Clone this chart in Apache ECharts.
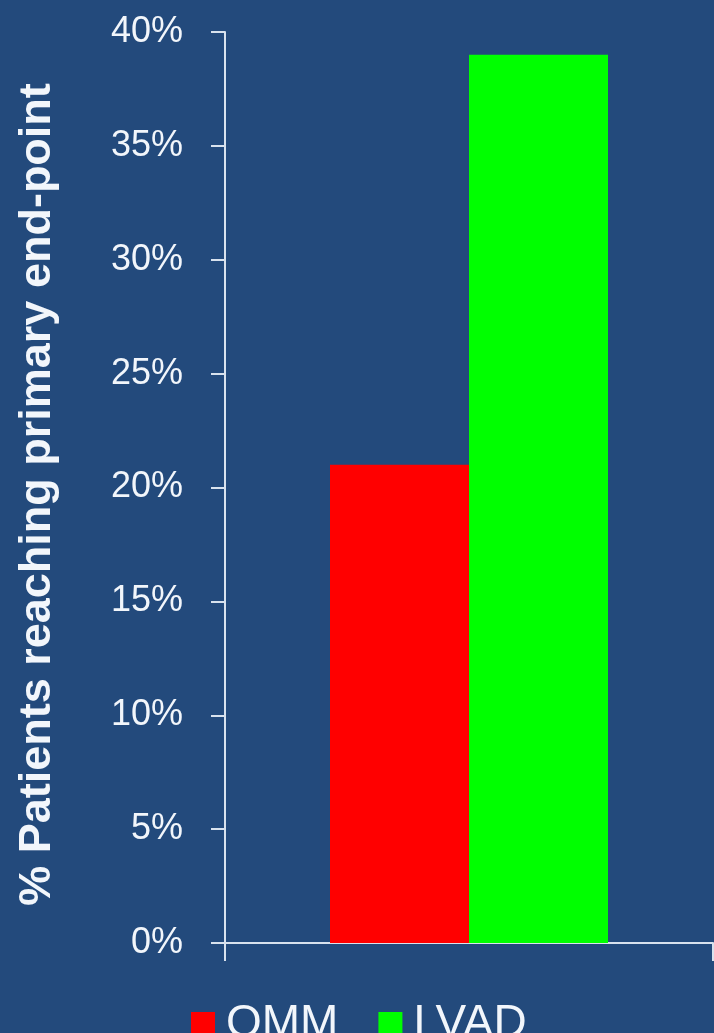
<!DOCTYPE html>
<html>
<head>
<meta charset="utf-8">
<script src="https://cdn.jsdelivr.net/npm/echarts@6/dist/echarts.min.js"></script>
<style>
  html, body { margin: 0; padding: 0; background: #234a7c; }
  #chart { width: 714px; height: 1033px; }
</style>
</head>
<body>
<div id="chart"></div>
<script>
// data
var categories = ['']
var seriesNames = ['OMM', 'LVAD']
var ommValues = [21]
var lvadValues = [39]

var textColor = '#f2f6fb'
var lineColor = '#d8e2ee'

var chart = echarts.init(document.getElementById('chart'))
chart.setOption({
  backgroundColor: '#234a7c',
  animation: false,
  grid: {
    left: 225,
    right: 1,
    top: 32,
    bottom: 90,
  },
  legend: {
    data: seriesNames,
    left: 186,
    top: 996,
    itemWidth: 24,
    itemHeight: 24,
    itemGap: 40,
    icon: 'rect',
    textStyle: {
      color: textColor,
      fontSize: 46,
      fontFamily: 'Liberation Sans',
      padding: [0, 0, 0, 6],
    },
  },
  xAxis: {
    type: 'category',
    data: categories,
    axisLine: { lineStyle: { color: lineColor, width: 2 } },
    axisTick: { show: true, length: 18, lineStyle: { color: lineColor, width: 2 } },
    axisLabel: { show: false },
  },
  yAxis: {
    type: 'value',
    min: 0,
    max: 40,
    interval: 5,
    name: '% Patients reaching primary end-point',
    nameLocation: 'middle',
    nameGap: 165,
    nameTextStyle: {
      color: textColor,
      fontSize: 45,
      fontWeight: 'bold',
      fontFamily: 'Liberation Sans',
      padding: [0, 14, 0, 0],
      align: 'center',
    },
    splitLine: { show: false },
    axisLine: { show: true, lineStyle: { color: lineColor, width: 2 } },
    axisTick: { show: true, length: 14, lineStyle: { color: lineColor, width: 2 } },
    axisLabel: {
      color: textColor,
      fontSize: 36,
      fontFamily: 'Liberation Sans',
      margin: 42,
      formatter: '{value}%',
    },
  },
  series: [
    {
      name: 'OMM',
      type: 'bar',
      data: ommValues,
      barWidth: 139,
      barGap: '0%',
      itemStyle: { color: '#ff0000' },
    },
    {
      name: 'LVAD',
      type: 'bar',
      data: lvadValues,
      barWidth: 139,
      barGap: '0%',
      itemStyle: { color: '#00ff00' },
    },
  ],
})
</script>
</body>
</html>
